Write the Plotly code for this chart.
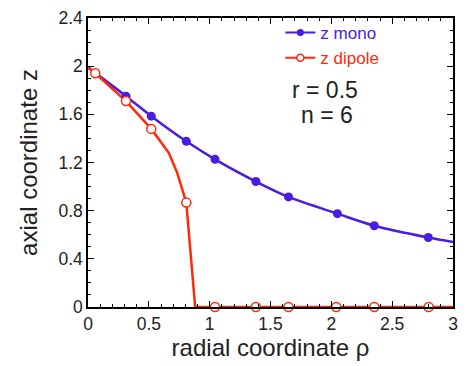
import plotly.graph_objects as go

# ---- data ----
mono_rho = [0.0, 0.312, 0.52, 0.808, 1.044, 1.38, 1.648, 2.05, 2.353, 2.797, 3.0]
mono_z = [1.99, 1.751, 1.585, 1.376, 1.226, 1.042, 0.914, 0.775, 0.675, 0.577, 0.54]
mono_marked = [False, True, True, True, True, True, True, True, True, True, False]

dip_rho = [0.0, 0.06, 0.312, 0.52, 0.664, 0.732, 0.808, 0.881, 1.044, 1.38, 1.648, 2.04, 2.353, 2.80, 3.0]
dip_z = [1.99, 1.941, 1.71, 1.479, 1.28, 1.117, 0.867, 0.0, 0.0, 0.0, 0.0, 0.0, 0.0, 0.0, 0.0]
dip_marked = [False, True, True, True, False, False, True, False, True, True, True, True, True, True, False]

x_ticks = [0, 0.5, 1, 1.5, 2, 2.5, 3]
x_ticklabels = ["0", "0.5", "1", "1.5", "2", "2.5", "3"]
y_ticks = [0, 0.4, 0.8, 1.2, 1.6, 2.0, 2.4]
y_ticklabels = ["0", "0.4", "0.8", "1.2", "1.6", "2", "2.4"]

BLUE = "#4a1be0"
RED = "#ff2a0a"
FONT = "Liberation Sans, Arial, sans-serif"
TXT = "#222"

fig = go.Figure()

# lines
fig.add_trace(go.Scatter(x=mono_rho, y=mono_z, mode="lines",
                         line=dict(color=BLUE, width=2.5, shape="spline", smoothing=0.8),
                         showlegend=False, hoverinfo="skip", cliponaxis=False))
fig.add_trace(go.Scatter(x=dip_rho, y=dip_z, mode="lines",
                         line=dict(color=RED, width=2.5),
                         showlegend=False, hoverinfo="skip", cliponaxis=False))

# markers
fig.add_trace(go.Scatter(x=[r for r, m in zip(mono_rho, mono_marked) if m],
                         y=[z for z, m in zip(mono_z, mono_marked) if m],
                         mode="markers", marker=dict(color=BLUE, size=9, line=dict(width=0)),
                         showlegend=False, cliponaxis=False))
fig.add_trace(go.Scatter(x=[r for r, m in zip(dip_rho, dip_marked) if m],
                         y=[z for z, m in zip(dip_z, dip_marked) if m],
                         mode="markers", marker=dict(color="white", size=9, line=dict(color=RED, width=1.5)),
                         showlegend=False, cliponaxis=False))

# legend entries
fig.add_trace(go.Scatter(x=[None], y=[None], mode="lines+markers",
                         name=f"<span style='color:{BLUE}'>z mono</span>",
                         line=dict(color=BLUE, width=2), marker=dict(color=BLUE, size=7)))
fig.add_trace(go.Scatter(x=[None], y=[None], mode="lines+markers",
                         name=f"<span style='color:{RED}'>z dipole</span>",
                         line=dict(color=RED, width=2),
                         marker=dict(color="white", size=7, line=dict(color=RED, width=1.5))))

axis_common = dict(
    showline=True, linecolor="black", linewidth=1.5, mirror="ticks",
    ticks="inside", ticklen=6, tickwidth=1.2, tickcolor="black",
    showgrid=False, zeroline=False,
    tickfont=dict(family=FONT, size=17.5, color=TXT),
    minor=dict(ticks="inside", ticklen=3.5, tickwidth=1, tickcolor="black", dtick=0.1, showgrid=False),
)

fig.update_xaxes(range=[0, 3], tickvals=x_ticks, ticktext=x_ticklabels,
                 title=dict(text="radial coordinate ρ", font=dict(family=FONT, size=24, color=TXT), standoff=0),
                 **axis_common)
fig.update_yaxes(range=[0, 2.4], tickvals=y_ticks, ticktext=y_ticklabels,
                 title=dict(text="axial coordinate z", font=dict(family=FONT, size=24, color=TXT), standoff=14),
                 **axis_common)

fig.add_annotation(x=(328 - 88) / 370, y=(307 - 86) / 294, xref="paper", yref="paper",
                   xanchor="center", yanchor="middle",
                   text="r = 0.5", showarrow=False, font=dict(family=FONT, size=23, color=TXT))
fig.add_annotation(x=(330 - 88) / 370, y=(307 - 112) / 294, xref="paper", yref="paper",
                   xanchor="center", yanchor="middle",
                   text="n = 6", showarrow=False, font=dict(family=FONT, size=23, color=TXT))

fig.update_layout(
    width=466, height=366,
    margin=dict(l=88, r=8, t=13, b=59),
    paper_bgcolor="white", plot_bgcolor="white",
    font=dict(family=FONT, color=TXT),
    legend=dict(x=(283 - 88) / 370, y=(307 - 10) / 294, xanchor="left", yanchor="top",
                bgcolor="rgba(0,0,0,0)", font=dict(family=FONT, size=17),
                tracegroupgap=0, itemwidth=30),
)

fig.write_html("out.html")
